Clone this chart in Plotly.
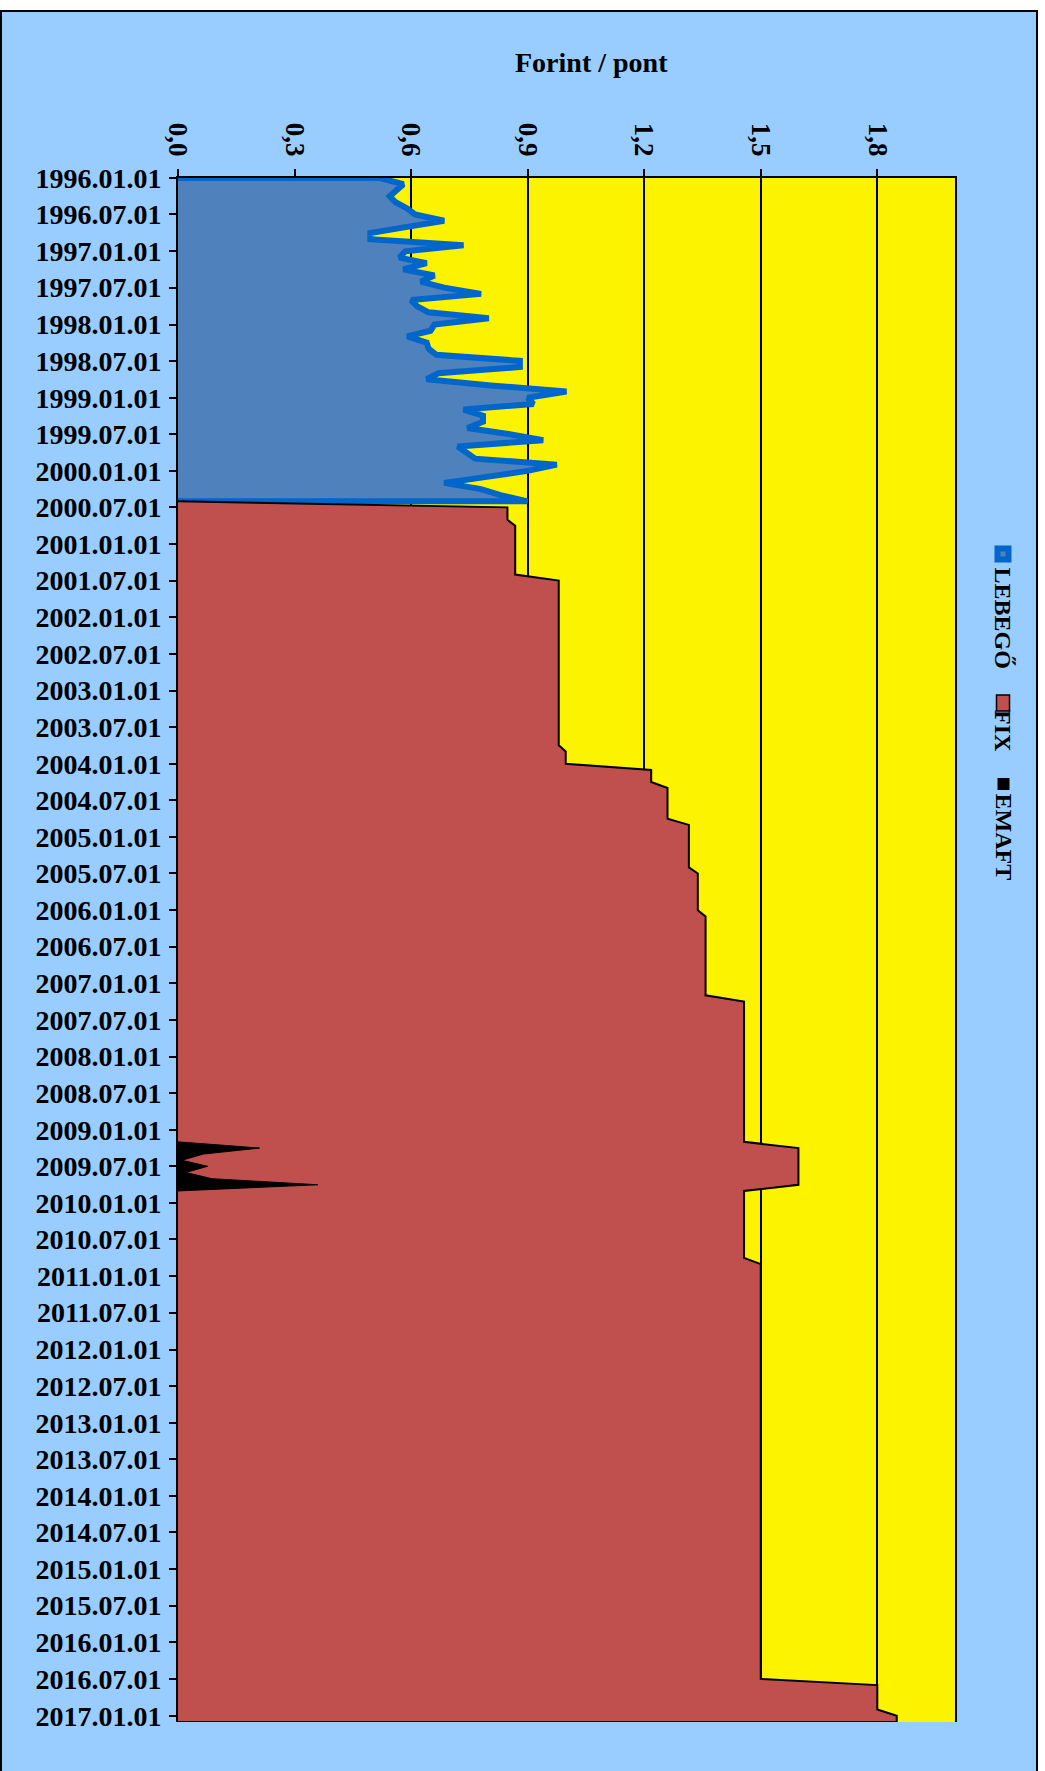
import pandas as pd
import plotly.graph_objects as go

FONT = "Liberation Serif"
PAPER_BG = "#99CCFF"
PLOT_BG = "#FCF300"
RED = "#C0504D"
BLUE_FILL = "#4F81BD"
BLUE_LINE = "#0066CC"

# ---------------- data ----------------
lebego_dates = list(pd.date_range("1996-01-01", "2000-06-01", freq="MS"))
lebego_values = [
    0.52, 0.58, 0.565, 0.545, 0.56, 0.59, 0.61, 0.685, 0.59, 0.495, 0.495, 0.735,
    0.585, 0.57, 0.64, 0.58, 0.66, 0.625, 0.685, 0.78, 0.60, 0.615, 0.645, 0.80,
    0.66, 0.65, 0.59, 0.64, 0.645, 0.665, 0.88, 0.88, 0.67, 0.64, 0.805, 1.00,
    0.90, 0.915, 0.735, 0.785, 0.785, 0.745, 0.85, 0.94, 0.72, 0.745, 0.765, 0.975,
    0.90, 0.79, 0.685, 0.78, 0.83, 0.90,
]

fix_dates = [
    "2000-06-01", "2000-07-01", "2000-09-01", "2000-10-01", "2001-06-01", "2001-07-01",
    "2003-10-01", "2003-11-01", "2004-01-01", "2004-02-01", "2004-04-01", "2004-05-01",
    "2004-10-01", "2004-11-01", "2005-06-01", "2005-07-01", "2006-01-01", "2006-02-01",
    "2007-03-01", "2007-04-01", "2009-03-01", "2009-04-01", "2009-10-01", "2009-11-01",
    "2010-10-01", "2010-11-01", "2016-07-01", "2016-08-01", "2016-12-01", "2017-01-01",
    "2017-02-01",
]
fix_values = [
    0.0, 0.848, 0.848, 0.868, 0.868, 0.98,
    0.98, 0.998, 0.998, 1.218, 1.218, 1.26,
    1.26, 1.315, 1.315, 1.338, 1.338, 1.358,
    1.358, 1.457, 1.457, 1.597, 1.597, 1.457,
    1.457, 1.50, 1.50, 1.80, 1.80, 1.85,
    1.85,
]

emaft_dates = [
    "2009-03-01", "2009-04-01", "2009-05-01", "2009-06-01", "2009-07-01",
    "2009-08-01", "2009-09-01", "2009-10-01", "2009-11-01",
]
emaft_values = [0.0, 0.21, 0.065, 0.01, 0.076, 0.02, 0.088, 0.36, 0.0]

series_names = ["LEBEGŐ", "FIX", "EMAFT"]
axis_title = "Forint / pont"

# ---------------- geometry helpers ----------------
W, H = 1045, 1771
ML, MR, MT, MB = 178, 90, 178, 49
PW, PH = W - ML - MR, H - MT - MB


def xp(px):
    return (px - ML) / PW


def yp(py):
    return 1 - (py - MT) / PH


fig = go.Figure()

# LEBEGŐ (closed polygon against the value-0 baseline)
fig.add_trace(go.Scatter(
    x=[0] + lebego_values + [0],
    y=[lebego_dates[0]] + lebego_dates + [lebego_dates[-1]],
    mode="lines", fill="toself", fillcolor=BLUE_FILL,
    line=dict(color=BLUE_LINE, width=6), name=series_names[0],
    hoverinfo="skip", showlegend=False,
))

# FIX
fig.add_trace(go.Scatter(
    x=fix_values + [0],
    y=fix_dates + [fix_dates[-1]],
    mode="lines", fill="toself", fillcolor=RED,
    line=dict(color="black", width=2), name=series_names[1],
    hoverinfo="skip", showlegend=False,
))

# EMAFT
fig.add_trace(go.Scatter(
    x=emaft_values, y=emaft_dates,
    mode="lines", fill="toself", fillcolor="black",
    line=dict(color="black", width=1), name=series_names[2],
    hoverinfo="skip", showlegend=False,
))

shapes = [
    # white margins outside the chart border
    dict(type="rect", xref="paper", yref="paper", x0=xp(-5), x1=xp(W + 5), y0=yp(-5), y1=yp(10),
         fillcolor="white", line=dict(width=0), layer="above"),
    dict(type="rect", xref="paper", yref="paper", x0=xp(1038), x1=xp(W + 5), y0=yp(-5), y1=yp(H + 5),
         fillcolor="white", line=dict(width=0), layer="above"),
    # chart-area border
    dict(type="rect", xref="paper", yref="paper", x0=xp(1), x1=xp(1037), y0=yp(11), y1=yp(H + 20),
         fillcolor="rgba(0,0,0,0)", line=dict(color="black", width=2), layer="above"),
    # legend keys
    dict(type="rect", xref="paper", yref="paper", x0=xp(994.5), x1=xp(1011.5), y0=yp(545.5), y1=yp(562.5),
         fillcolor=BLUE_LINE, line=dict(width=0), layer="above"),
    dict(type="rect", xref="paper", yref="paper", x0=xp(1000.5), x1=xp(1005.5), y0=yp(551.5), y1=yp(556.5),
         fillcolor=BLUE_FILL, line=dict(width=0), layer="above"),
    dict(type="rect", xref="paper", yref="paper", x0=xp(996.5), x1=xp(1009.5), y0=yp(695), y1=yp(711),
         fillcolor=RED, line=dict(color="black", width=1.5), layer="above"),
    dict(type="rect", xref="paper", yref="paper", x0=xp(997.5), x1=xp(1009.5), y0=yp(778), y1=yp(790),
         fillcolor="black", line=dict(width=0), layer="above"),
]

bold = dict(family=FONT, color="black", weight="bold")

annotations = [
    dict(text=axis_title, xref="paper", yref="paper", x=xp(591), y=yp(63),
         xanchor="center", yanchor="middle", showarrow=False, font=dict(**bold, size=28)),
    dict(text=series_names[0], xref="paper", yref="paper", x=xp(1003), y=yp(617.5),
         xanchor="center", yanchor="middle", showarrow=False, textangle=90,
         font=dict(**bold, size=24)),
    dict(text=series_names[1], xref="paper", yref="paper", x=xp(1003), y=yp(731),
         xanchor="center", yanchor="middle", showarrow=False, textangle=90,
         font=dict(**bold, size=24)),
    dict(text=series_names[2], xref="paper", yref="paper", x=xp(1003), y=yp(836.5),
         xanchor="center", yanchor="middle", showarrow=False, textangle=90,
         font=dict(**bold, size=24)),
]

fig.update_layout(
    width=W, height=H,
    margin=dict(l=ML, r=MR, t=MT, b=MB, pad=0),
    paper_bgcolor=PAPER_BG, plot_bgcolor=PLOT_BG,
    separators=", ",
    showlegend=False,
    shapes=shapes, annotations=annotations,
    xaxis=dict(
        range=[0, 2.0], side="top", tick0=0, dtick=0.3, tickformat=".1f",
        tickangle=90, ticks="outside", ticklen=7, tickwidth=2, tickcolor="black",
        showline=True, linecolor="black", linewidth=2,
        showgrid=True, gridcolor="black", gridwidth=2, zeroline=False,
        tickfont=dict(**bold, size=27), ticklabelstandoff=3, fixedrange=True,
    ),
    yaxis=dict(
        type="date", range=["2017-02-01", "1996-01-01"],
        tick0="1996-01-01", dtick="M6", tickformat="%Y.%m.%d",
        ticks="outside", ticklen=7, tickwidth=2, tickcolor="black",
        showline=True, linecolor="black", linewidth=2, mirror=True,
        showgrid=False, zeroline=False,
        tickfont=dict(**bold, size=28), ticklabelstandoff=2, fixedrange=True,
    ),
)

fig.write_html("out.html", config={"displayModeBar": False},
               post_script="document.body.style.margin='0px';")
